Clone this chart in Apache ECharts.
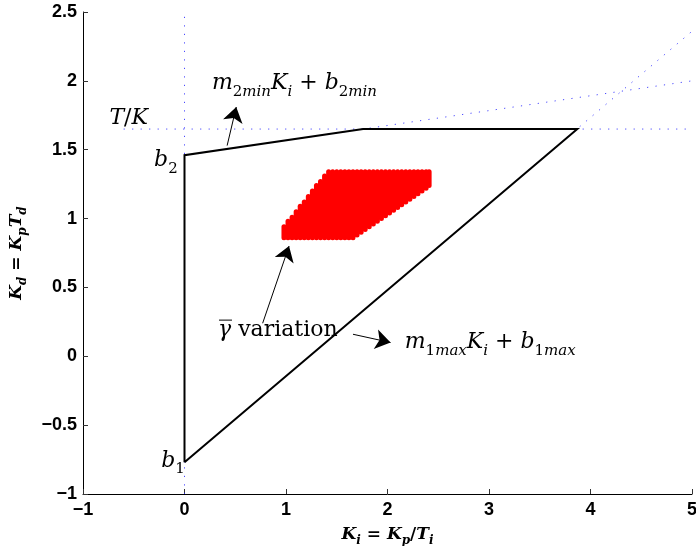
<!DOCTYPE html>
<html>
<head>
<meta charset="utf-8">
<script src="https://cdn.jsdelivr.net/npm/echarts@6/dist/echarts.min.js"></script>
<style>
  html, body { margin: 0; padding: 0; background: #fff; }
  #chart { width: 696px; height: 546px; }
</style>
</head>
<body>
<div id="chart"></div>
<script>
// Axis ranges and ticks
const xRange = [-1, 5];
const yRange = [-1, 2.5];
const xTickStep = 1;
const yTickStep = 0.5;

// Feasible region boundary (Ki, Kd): b1 -> b2 -> corner -> T/K corner -> back to b1
const regionKi = [0, 0, 1.76, 3.87, 0];
const regionKd = [-0.77, 1.46, 1.65, 1.65, -0.77];

// Guide lines (dotted)
const vGuideKi = [0, 0];
const vGuideKd = [-1, 2.5];
const tkGuideKi = [-0.6, 5];
const tkGuideKd = [1.65, 1.65];
const m2GuideKi = [0, 5];
const m2GuideKd = [1.46, 2.0];
const m1GuideKi = [0, 5];
const m1GuideKd = [-0.77, 2.36];

// gamma-bar variation: vertical strips at Ki with lower / upper Kd
const gammaKi = [0.98, 1.02, 1.06, 1.10, 1.14, 1.18, 1.22, 1.26, 1.30, 1.34, 1.38, 1.42,
  1.46, 1.50, 1.54, 1.58, 1.62, 1.66, 1.70, 1.74, 1.78, 1.82, 1.86, 1.90, 1.94, 1.98,
  2.02, 2.06, 2.10, 2.14, 2.18, 2.22, 2.26, 2.30, 2.34, 2.38, 2.41];
const gammaLow = [0.86, 0.86, 0.86, 0.86, 0.86, 0.86, 0.86, 0.86, 0.86, 0.86, 0.86, 0.86,
  0.86, 0.86, 0.86, 0.86, 0.86, 0.86, 0.88, 0.90, 0.92, 0.94, 0.96, 0.98, 1.00, 1.02,
  1.04, 1.06, 1.08, 1.10, 1.12, 1.14, 1.16, 1.18, 1.20, 1.22, 1.24];
const gammaHigh = [0.94, 0.98, 1.01, 1.05, 1.09, 1.12, 1.16, 1.20, 1.24, 1.27, 1.31, 1.34,
  1.34, 1.34, 1.34, 1.34, 1.34, 1.34, 1.34, 1.34, 1.34, 1.34, 1.34, 1.34, 1.34, 1.34,
  1.34, 1.34, 1.34, 1.34, 1.34, 1.34, 1.34, 1.34, 1.34, 1.34, 1.34];

// Annotation arrows: [fromKi, fromKd, toKi, toKd]
const arrowM2 = [0.42, 1.53, 0.51, 1.81];
const arrowGamma = [0.77, 0.24, 1.03, 0.80];
const arrowM1 = [1.66, 0.16, 2.03, 0.10];

// Annotation text anchors (left edge, vertical middle)
const labelTK = [-0.74, 1.73];
const labelM2 = [0.27, 1.98];
const labelB2 = [-0.30, 1.42];
const labelB1 = [-0.23, -0.76];
const labelGamma = [0.33, 0.19];
const labelM1 = [2.17, 0.10];

const pairs = (xs, ys) => xs.map((x, i) => [x, ys[i]]);
const minusFmt = v => String(v).replace('-', '\u2212');

const serif = '"DejaVu Serif", "Liberation Serif", serif';
const sans = '"Liberation Sans", Arial, sans-serif';

// Rich text styles for math-like labels
const mathRich = {
  i: { fontFamily: serif, fontStyle: 'italic', fontSize: 22, color: '#000', lineHeight: 32, verticalAlign: 'middle' },
  r: { fontFamily: serif, fontSize: 22, color: '#000', lineHeight: 32, verticalAlign: 'middle' },
  si: { fontFamily: serif, fontStyle: 'italic', fontSize: 15, color: '#000', lineHeight: 32, verticalAlign: 'bottom' },
  sr: { fontFamily: serif, fontSize: 15, color: '#000', lineHeight: 32, verticalAlign: 'bottom' }
};
const axisRich = {
  i: { fontFamily: serif, fontStyle: 'italic', fontWeight: 'bold', fontSize: 17, color: '#000', lineHeight: 24, verticalAlign: 'middle' },
  r: { fontFamily: serif, fontWeight: 'bold', fontSize: 17, color: '#000', lineHeight: 24, verticalAlign: 'middle' },
  si: { fontFamily: serif, fontStyle: 'italic', fontWeight: 'bold', fontSize: 12, color: '#000', lineHeight: 24, verticalAlign: 'bottom' }
};

const dotted = { color: '#2a2aff', width: 1, type: [1.2, 7.3], opacity: 0.85 };

const chart = echarts.init(document.getElementById('chart'), null, { renderer: 'canvas' });

const option = {
  animation: false,
  backgroundColor: '#fff',
  grid: { left: 83, right: 4, top: 12, bottom: 52, containLabel: false, outerBoundsMode: 'none' },
  xAxis: {
    type: 'value', min: xRange[0], max: xRange[1], interval: xTickStep,
    name: '{i|K}{si|i}{r| = }{i|K}{si|p}{r|/}{i|T}{si|i}',
    nameLocation: 'middle', nameGap: 29,
    nameTextStyle: { rich: axisRich },
    axisLine: { onZero: false, lineStyle: { color: '#000', width: 1 } },
    axisTick: { inside: true, length: 5, lineStyle: { color: '#333' } },
    axisLabel: { formatter: minusFmt, fontFamily: sans, fontWeight: 'bold', fontSize: 18, color: '#000', margin: 7 },
    splitLine: { show: false }
  },
  yAxis: {
    type: 'value', min: yRange[0], max: yRange[1], interval: yTickStep,
    name: '{i|K}{si|d}{r| = }{i|K}{si|p}{i|T}{si|d}',
    nameLocation: 'middle', nameGap: 54, nameRotate: 90,
    nameTextStyle: { rich: axisRich },
    axisLine: { onZero: false, lineStyle: { color: '#000', width: 1 } },
    axisTick: { inside: true, length: 5, lineStyle: { color: '#333' } },
    axisLabel: { formatter: minusFmt, fontFamily: sans, fontWeight: 'bold', fontSize: 18, color: '#000', margin: 6 },
    splitLine: { show: false }
  },
  series: [
    { type: 'line', data: pairs(vGuideKi, vGuideKd), symbol: 'none', lineStyle: dotted, z: 1 },
    { type: 'line', data: pairs(tkGuideKi, tkGuideKd), symbol: 'none', lineStyle: dotted, z: 1 },
    { type: 'line', data: pairs(m2GuideKi, m2GuideKd), symbol: 'none', lineStyle: dotted, z: 1 },
    { type: 'line', data: pairs(m1GuideKi, m1GuideKd), symbol: 'none', lineStyle: dotted, z: 1 },
    {
      type: 'line', data: pairs(regionKi, regionKd), symbol: 'none',
      lineStyle: { color: '#000', width: 2, join: 'miter' }, z: 3
    },
    {
      type: 'custom',
      data: gammaKi.map((k, i) => [k, gammaLow[i], gammaHigh[i]]),
      encode: { x: 0, y: [1, 2] },
      renderItem: function (params, api) {
        const p0 = api.coord([api.value(0), api.value(1)]);
        const p1 = api.coord([api.value(0), api.value(2)]);
        return {
          type: 'line',
          shape: { x1: p0[0], y1: p0[1], x2: p1[0], y2: p1[1] },
          style: { stroke: '#ff0000', lineWidth: 5, lineCap: 'round' }
        };
      },
      z: 4
    },
    {
      type: 'lines', coordinateSystem: 'cartesian2d',
      symbol: ['none', 'arrow'], symbolSize: [10, 15],
      lineStyle: { color: '#000', width: 1, opacity: 1 },
      itemStyle: { color: '#000' },
      data: [arrowM2, arrowGamma, arrowM1].map(a => ({ coords: [[a[0], a[1]], [a[2], a[3]]] })),
      z: 5
    }
  ]
};
chart.setOption(option);

// Place annotation texts at data positions
const toPx = pos => chart.convertToPixel({ gridIndex: 0 }, pos);
const textEl = (pos, text) => {
  const p = toPx(pos);
  return {
    type: 'text', x: p[0], y: p[1], z: 10,
    style: { text: text, rich: mathRich, align: 'left', verticalAlign: 'middle' }
  };
};
const gp = toPx(labelGamma);
chart.setOption({
  graphic: [
    textEl(labelTK, '{i|T}{r|/}{i|K}'),
    textEl(labelM2, '{i|m}{sr|2}{si|min}{i|K}{si|i}{r| + }{i|b}{sr|2}{si|min}'),
    textEl(labelB2, '{i|b}{sr|2}'),
    textEl(labelB1, '{i|b}{sr|1}'),
    textEl(labelGamma, '{i|\u03B3}{r| variation}'),
    // bar over gamma
    {
      type: 'line', z: 10,
      shape: { x1: gp[0] + 1, y1: gp[1] - 10, x2: gp[0] + 14, y2: gp[1] - 10 },
      style: { stroke: '#000', lineWidth: 1 }
    },
    textEl(labelM1, '{i|m}{sr|1}{si|max}{i|K}{si|i}{r| + }{i|b}{sr|1}{si|max}')
  ]
});
</script>
</body>
</html>
